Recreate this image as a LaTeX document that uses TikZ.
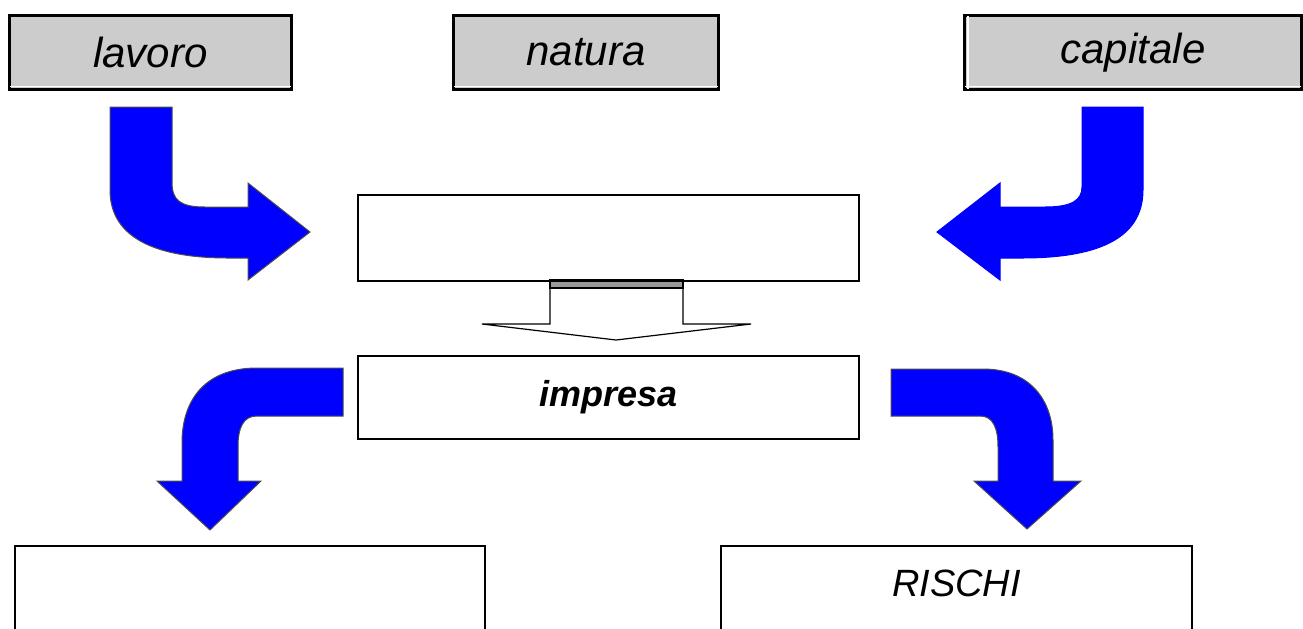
\documentclass[tikz,border=0pt]{standalone}
\usepackage{fontspec}
\setmainfont{Liberation Sans}
\definecolor{arrowblue}{RGB}{0,0,255}
\tikzset{
  topbox/.style={draw,fill=black!20,line width=1.5pt,anchor=north west,inner sep=0pt,font=\fontsize{21}{24}\selectfont\itshape},
  plainbox/.style={draw,line width=0.9pt,anchor=north west,inner sep=0pt},
  bluearrow/.style={fill=arrowblue,draw=black!70,line width=0.5pt}
}
\begin{document}
\begin{tikzpicture}[x=0.5pt,y=-0.5pt]
    \useasboundingbox (0,0) rectangle (1303,628);
    \node[topbox,minimum width=141pt,minimum height=37pt] (L) at (8,14) {lavoro};
    \node[topbox,minimum width=132.5pt,minimum height=37pt] (N) at (452,14) {natura};
    \node[topbox,minimum width=168.5pt,minimum height=37pt] (C) at (963,14) {capitale};
    \draw[white,line width=0.7pt] ([shift={(1.2pt,2.4pt)}]L.south west) -- ([shift={(-1.2pt,2.4pt)}]L.south east);
    \draw[white,line width=0.7pt] ([shift={(1.2pt,2.4pt)}]N.south west) -- ([shift={(-1.2pt,2.4pt)}]N.south east);
    \draw[white,line width=0.7pt] ([shift={(1.2pt,2.4pt)}]C.south west) -- ([shift={(-1.2pt,2.4pt)}]C.south east);
    \draw[white,line width=0.7pt] ([shift={(2.4pt,-1.2pt)}]C.north west) -- ([shift={(2.4pt,1.2pt)}]C.south west);
    \node[plainbox,minimum width=250.5pt,minimum height=43pt] (M) at (357,194) {};
    \node[plainbox,minimum width=250.5pt,minimum height=41.5pt,font=\fontsize{18}{20}\selectfont\bfseries\itshape] (I) at (357,355) {impresa};
    \node[plainbox,minimum width=235pt,minimum height=60pt] (B) at (14,545) {};
    \node[plainbox,minimum width=235.5pt,minimum height=60pt] (R) at (720,545) {};
    \draw (R.north) ++(0,38) node[font=\fontsize{19}{22}\selectfont\itshape] {RISCHI};
    \filldraw[fill=white,draw=black,line width=0.6pt] (550,281) -- (550,324) -- (482,324) -- (616,340) -- (751,324) -- (683,324) -- (683,281);
    \filldraw[fill=black!40,draw=black,line width=0.8pt] (550,280) rectangle (683,288);
    \draw[line width=1.2pt] (550,281) -- (683,281);
    \filldraw[bluearrow] (110,107) -- (172,107) -- (172,182) .. controls (172,200) and (180,207) .. (205,207) -- (248,207) -- (248,183) -- (310,232) -- (248,280) -- (248,258) -- (228,258) .. controls (160,258) and (110,240) .. (110,190) -- cycle;
    \filldraw[fill=arrowblue,draw=arrowblue,line width=0.5pt] (1143,107) -- (1082,107) -- (1082,187) .. controls (1082,200) and (1072,207) .. (1045,207) -- (1000,207) -- (1000,183) -- (937,232) -- (1000,280) -- (1000,258) -- (1022,258) .. controls (1095,258) and (1143,240) .. (1143,190) -- cycle;
    \filldraw[bluearrow] (343,368) -- (257,368) .. controls (205,368) and (182,400) .. (182,443) -- (182,481) -- (157,481) -- (210,530) -- (261,481) -- (238,481) -- (238,447) .. controls (238,428) and (243,416) .. (257,416) -- (343,416) -- cycle;
    \filldraw[bluearrow] (891,369) -- (983,369) .. controls (1030,369) and (1053,400) .. (1053,440) -- (1053,481) -- (1081,481) -- (1027,529) -- (974,481) -- (998,481) -- (998,447) .. controls (998,428) and (993,416) .. (980,416) -- (891,416) -- cycle;
\end{tikzpicture}
\end{document}
